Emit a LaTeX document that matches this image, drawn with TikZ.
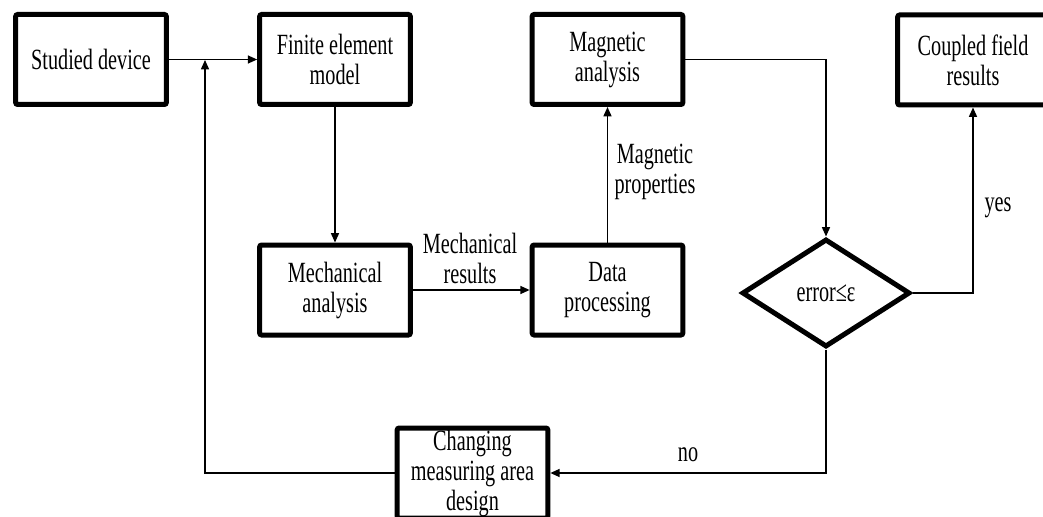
\documentclass[tikz,border=0pt]{standalone}
\usepackage{fontspec}
\setmainfont[FakeStretch=0.69]{Liberation Serif}
\usetikzlibrary{arrows.meta,shapes.geometric}
\begin{document}
\begin{tikzpicture}[x=0.75pt,y=-0.75pt,
  txt/.style={font=\fontsize{22}{22.5}\selectfont},
  box/.style={txt,draw,line width=3.75pt,rounded corners=1.5pt,minimum width=113pt,minimum height=67.5pt,inner sep=0pt,align=center},
  dia/.style={txt,draw,diamond,line width=3.75pt,minimum width=126pt,minimum height=81pt,inner sep=0pt},
  conn/.style={line width=1.1pt,-{Triangle[length=7pt,width=6pt]}},
  lab/.style={txt,align=center,inner sep=0pt}]
\useasboundingbox (0,0) rectangle (1043,517);
\clip (0,0) rectangle (1043,517);
\node[box] (A) at (91,59.5) {Studied device};
\node[box] (B) at (335,59.5) {Finite element\\model};
\node[box] (C) at (607.5,59.5) {Magnetic\\analysis};
\node[box] (D) at (973,60) {Coupled field\\results};
\node[box] (E) at (335,290) {Mechanical\\analysis};
\node[box] (F) at (607.5,290) {Data\\processing};
\node[dia] (G) at (826,293) {error≤ε};
\node[box] (H) at (472.5,473) {Changing\\measuring area\\design};
\coordinate (J) at (205,60);
\draw[conn] (A) -- (B);
\draw[conn] (B) -- (E);
\draw[conn] (E) -- (F);
\draw[conn] (F) -- (C);
\draw[conn] (C.east) -| (G.north);
\draw[conn] (G.east) -| (D.south);
\draw[conn] (G.south) |- (H.east);
\draw[conn] (H.west) -| (J);
\node[lab] (l1) at (470,258) {Mechanical\\results};
\node[lab] (l2) at (655,172) {Magnetic\\properties};
\node[lab] (l3) at (998,208) {yes};
\node[lab] (l4) at (688,455) {no};
\end{tikzpicture}
\end{document}
